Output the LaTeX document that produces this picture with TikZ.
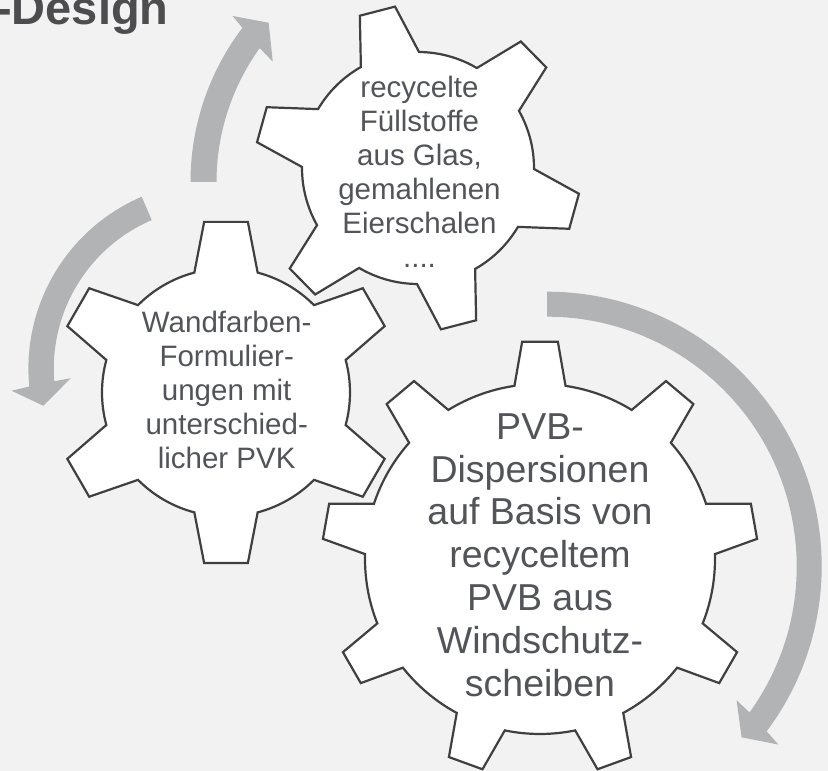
\documentclass[tikz,border=0pt]{standalone}
\usepackage{fontspec}
\setmainfont{Liberation Sans}
\definecolor{figBg}   {RGB}{242,242,242}
\definecolor{figArrow}{RGB}{178,179,181}
\definecolor{figLine} {RGB}{64,64,66}
\definecolor{figText} {RGB}{82,84,89}
\definecolor{figTitle}{RGB}{77,77,79}

\begin{document}
\begin{tikzpicture}[x=1pt, y=1pt,
    cogwheel/.style={fill=white, draw=figLine, line width=2.2pt, line join=miter},
    gearlabel/.style={text=figText, align=center, inner sep=0pt},
    curlarrow/.style={fill=figArrow}]
        \useasboundingbox (0,0) rectangle (828,771);
        \clip (0,0) rectangle (828,771);
        \fill[figBg] (0,0) rectangle (828,771);
        \node[anchor=base west, inner sep=0pt, text=figTitle,
              font=\fontsize{47}{56}\selectfont\bfseries] (title) at (-4,746) {-Design};
        \fill[curlarrow, shift={(445.5,589)}](180:255)
              arc[start angle=180, end angle=142.8, radius=255]
              --(142.05:270)--(138:238)--(145.15:210.5)--(144.2:229)
              arc[start angle=144.2, end angle=180, radius=229]--cycle;
        \fill[curlarrow, shift={(215.4,402.4)}](113.2:187)
              arc[start angle=113.2, end angle=185.5, radius=187]
              --(186.2:205)--(192.2:176)--(183.8:145)--(184.5:161.6)
              arc[start angle=184.5, end angle=113.2, radius=161.6]--cycle;
        \fill[curlarrow, shift={(547,204.6)}](90:274.7)
              arc[start angle=90, end angle=-36.9, radius=274.7]
              --(-37.6:292)--(-41.3:259)--(-35.2:232)--(-35.8:249.7)
              arc[start angle=-35.8, end angle=90, radius=249.7]--cycle;
        \filldraw[cogwheel, shift={(418,603)}](89.5:116)
              \foreach \a in {104.5,164.5,224.5,284.5,344.5,404.5}{
              --(\a-6.4:163)--(\a+6.4:163)--(\a+15:116)
              arc[start angle=\a+15, end angle=\a+45, radius=116]}--cycle;
        \filldraw[cogwheel, shift={(226,378.5)}](75.2:124)
              \foreach \a in {90,150,210,270,330,390}{
              --(\a-7.3:172)--(\a+7.3:172)--(\a+14.8:124)
              arc[start angle=\a+14.8, end angle=\a+45.2, radius=124]}--cycle;
        \filldraw[cogwheel, shift={(540,212)}](81.6:175)
              \foreach \a in {90,130,170,210,250,290,330,370,410}{
              --(\a-4.7:218)--(\a+4.7:218)--(\a+8.4:175)
              arc[start angle=\a+8.4, end angle=\a+31.6, radius=175]}--cycle;
        \node[gearlabel, font=\fontsize{29.5}{34}\selectfont] (fuellstoffe)
              at (419.5,599.5) {recycelte\\Füllstoffe\\aus Glas,\\gemahlenen\\Eierschalen\\....};
        \node[gearlabel, font=\fontsize{29.5}{34}\selectfont] (wandfarben)
              at (226.7,381) {Wandfarben-\\Formulier-\\ungen mit\\unterschied-\\licher PVK};
        \node[gearlabel, font=\fontsize{37.5}{42.8}\selectfont] (pvb)
              at (540,216) {PVB-\\Dispersionen\\auf Basis von\\recyceltem\\PVB aus\\Windschutz-\\scheiben};
      \end{tikzpicture}
\end{document}
